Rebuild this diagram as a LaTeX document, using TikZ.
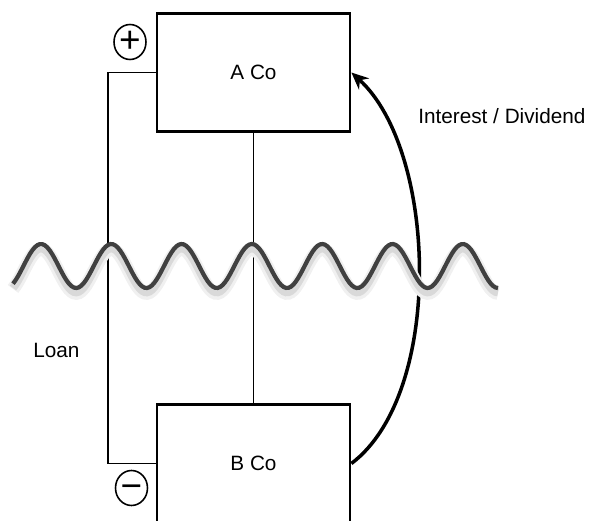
\documentclass[tikz,border=0pt]{standalone}
\usepackage{fontspec}
\setmainfont{Liberation Sans}
\usetikzlibrary{arrows.meta,shapes.geometric}

\begin{document}
\begin{tikzpicture}[x=0.02cm, y=-0.02cm,
declare function={
wave(\t)=266-22*cos(5.1209*(\t-41));
},
company/.style={draw, line width=1.6pt, minimum width=3.86cm, minimum height=2.36cm, inner sep=0pt, font=\fontsize{11.8}{14}\selectfont},
sign/.style={draw, ellipse, line width=0.9pt, minimum width=0.64cm, minimum height=0.7cm, inner sep=0pt, font=\fontsize{21}{22}\selectfont},
note/.style={anchor=base west, inner sep=0pt, font=\fontsize{11.8}{14}\selectfont}]
\useasboundingbox (0,0) rectangle (589,521);

% Draw the two companies
\node[company] (aco) at (253.5,72.5) {A Co};
\node[company] (bco) at (253.5,463.5) {B Co};

% Add the plus and minus signs
\node[sign] (plus) at (130,42) {+};
\node[sign] (minus) at (131.5,488) {\vphantom{+}−};

% Add labels for the loan and the return flow
\node[note] (loan) at (33,357) {Loan};
\node[note] (flow) at (418,123) {Interest / Dividend};

% Draw the loan line and the ownership line
\draw[line width=1.1pt] (aco.west) -- ++(-48,0) |- (bco.west);
\draw[line width=1.1pt] (aco.south) -- (bco.north);

% Draw the curved arrow from B Co back to A Co
\draw[-{Stealth[length=0.34cm, width=0.3cm]}, line width=2pt]
(bco.east) .. controls +(93,-70) and +(86,78) .. (aco.east);

% Draw the border wave with its shadow
\draw[gray!12, line width=7.5pt, yshift=-3pt] plot[variable=\t, domain=13:498, samples=200] (\t,{wave(\t)});
\draw[gray!30, line width=4.5pt, yshift=-2.5pt] plot[variable=\t, domain=13:498, samples=200] (\t,{wave(\t)});
\draw[black!75, line width=2.4pt] plot[variable=\t, domain=13:498, samples=200] (\t,{wave(\t)});

\end{tikzpicture}
\end{document}
